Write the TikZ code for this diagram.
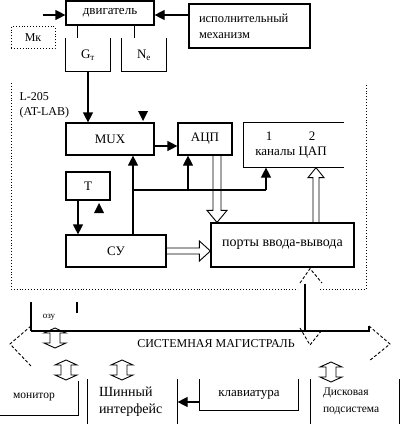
\documentclass[tikz,border=0pt]{standalone}
\usepackage{fontspec}
\setmainfont{Liberation Serif}
\usetikzlibrary{arrows.meta,calc}
\begin{document}
\begin{tikzpicture}[x=1pt,y=-1pt,line width=1.2pt,
  tri/.tip={Triangle[length=10pt,width=10pt]},
  blk/.style={draw,inner sep=0pt,font=\fontsize{13}{15}\selectfont},
  txt/.style={inner sep=0pt,font=\fontsize{13}{15}\selectfont},
  dblv/.pic={\draw[line width=0.9pt] (0,-10) -- (11,-5) -- (5,-5) -- (5,5) -- (11,5) -- (0,10) -- (-11,5) -- (-5,5) -- (-5,-5) -- (-11,-5) -- cycle;}
]
\useasboundingbox (0,0) rectangle (400,428);

% top part
\node[blk,minimum width=88pt,minimum height=24pt] (dvig) at (110,13) {двигатель};
\node[blk,minimum width=121pt,minimum height=44pt,text width=101pt,align=left,font=\fontsize{12.5}{16}\selectfont] (mech) at (249.5,26) {исполнительный\\механизм};
\node[draw,dotted,line width=0.9pt,minimum width=44pt,minimum height=22pt,inner sep=0pt,font=\fontsize{12}{14}\selectfont] (mk) at (33,37.5) {Мк};
\node[txt,minimum width=44pt,minimum height=32pt] (gt) at (88,55) {G\textsubscript{т}};
\node[txt,minimum width=44pt,minimum height=32pt] (ne) at (144,55) {N\textsubscript{е}};
\draw (gt.north west) |- (gt.south east) -- (gt.north east);
\draw (ne.north west) |- (ne.south east) -- (ne.north east);
\draw ($(dvig.south west)+(12,0)$) -- ++(0,12);
\draw ($(dvig.south east)+(-20,0)$) -- ++(0,12);
\coordinate (inL) at (43,15);
\draw[-tri] (inL) -- (inL -| dvig.west);
\draw[-tri] (mech.west |- inL) -- (dvig.east |- inL);

% L-205 region
\draw[dotted,line width=0.9pt] (11,83) -- (11,289) -- (298,289);
\draw[dotted,line width=0.9pt] (320,289) -- (366,289) -- (366,83);
\node[anchor=west,inner sep=0pt,font=\fontsize{12}{14}\selectfont] (l205) at (19,97) {L-205};
\node[anchor=west,inner sep=0pt,font=\fontsize{12}{14}\selectfont] (atlab) at (19,113) {(AT-LAB)};

\node[blk,minimum width=88pt,minimum height=32pt] (mux) at (110,139) {MUX};
\node[blk,minimum width=54pt,minimum height=32pt] (adc) at (205,139) {АЦП};
\node[inner sep=0pt,minimum width=99pt,minimum height=44pt] (dac) at (293.5,145) {};
\draw (dac.north east) -| (dac.south west) -- (dac.south east);
\node[txt] (d1) at (269,136) {1};
\node[txt] (d2) at (312,136) {2};
\node[txt] (dlab) at (291,153) {каналы ЦАП};
\node[blk,minimum width=44pt,minimum height=28pt] (t) at (88,186) {Т};
\node[blk,minimum width=100pt,minimum height=32pt] (su) at (116,251) {СУ};
\node[blk,minimum width=143pt,minimum height=44pt,font=\fontsize{14}{16}\selectfont] (ports) at (282.5,245) {порты ввода-вывода};

\draw[-tri] (gt.south) -- (gt.south |- mux.north);
\fill (138,111) -- (148,111) -- (143,121) -- cycle;
\draw[-tri] ($(mux.east)+(0,7)$) -- ($(adc.west)+(0,7)$);
\coordinate (j1) at (133,190);
\coordinate (ja) at (188,190);
\coordinate (jd) at (266,190);
\draw[-tri] (j1 |- su.north) -- (j1 |- mux.south);
\draw (j1) -- (jd);
\draw[-tri] (ja) -- (ja |- adc.south);
\draw[-tri] (jd) -- (jd |- dac.south);
\draw[-tri] ($(t.south)+(-10,0)$) -- ($(t.south |- su.north)+(-10,0)$);
\fill (94,213) -- (104,213) -- (99,203) -- cycle;

% block arrows
\coordinate (sp) at (su.east -| ports.west);
\draw[line width=0.9pt] ($(su.east)+(0,-3)$) -- ($(sp)+(-11,-3)$) -- ($(sp)+(-11,-10)$) -- (sp) -- ($(sp)+(-11,10)$) -- ($(sp)+(-11,3)$) -- ($(su.east)+(0,3)$);
\coordinate (ap) at ($(adc.south)+(12,0)$);
\coordinate (apt) at (ap |- ports.north);
\draw[line width=0.9pt] ($(ap)+(-4,0)$) -- ($(apt)+(-4,-12)$) -- ($(apt)+(-10,-12)$) -- (apt) -- ($(apt)+(10,-12)$) -- ($(apt)+(4,-12)$) -- ($(ap)+(4,0)$);
\coordinate (pd) at ($(ports.north)+(33.5,0)$);
\coordinate (pdt) at (pd |- dac.south);
\draw[line width=0.9pt] ($(pd)+(-3,0)$) -- ($(pdt)+(-3,10)$) -- ($(pdt)+(-8,10)$) -- (pdt) -- ($(pdt)+(8,10)$) -- ($(pdt)+(3,10)$) -- ($(pd)+(3,0)$);

% system bus
\coordinate (busL) at (31,331);
\coordinate (busR) at (369,331);
\coordinate (busLt) at (10,344);
\coordinate (busRt) at (390,344);
\draw (busL) -- (busR) -- (369,326);
\draw[densely dashed,line width=0.9pt] (31,326) -- (busLt) -- (31,366);
\draw[densely dashed,line width=0.9pt] (369,326) -- (busRt) -- (369,361);
\node[txt,font=\fontsize{12}{14}\selectfont] (bus) at (216,344) {СИСТЕМНАЯ МАГИСТРАЛЬ};

\coordinate (pb) at ($(ports.south)+(22.5,16)$);
\draw (pb) -- (pb |- busL);
\draw[densely dashed,line width=0.9pt] (300,283) -- ($(ports.south)+(27.5,1)$) -- (322,283);
\draw[densely dashed,line width=0.9pt] (300,328) -- (310,345) -- (322,330);

% OZU
\node[inner sep=0pt,font=\fontsize{9}{10}\selectfont] (ozu) at (49,317) {озу};
\draw (31,302) -- (busL);
\draw (77,302) -- (77,313);
\pic at (55,338) {dblv};
\pic at (66,370) {dblv};
\pic at (122,370) {dblv};
\pic at (331,372) {dblv};

% bottom row
\node[inner sep=0pt,minimum width=78pt,minimum height=33pt] (monbox) at (39,398.5) {};
\node[inner sep=0pt,font=\fontsize{11.5}{14}\selectfont] (mon) at (34,397) {монитор};
\draw (monbox.north east) -- (monbox.south east) -- (monbox.south west);
\node[inner sep=0pt,minimum width=89pt,minimum height=43pt,text width=67pt,align=left,font=\fontsize{14}{17}\selectfont] (sh) at (132.5,401.5) {Шинный\\интерфейс};
\draw (sh.north west) -- (sh.south west);
\draw (sh.north east) -- (sh.south east);
\node[txt,minimum width=98pt,minimum height=30pt] (kb) at (249,395) {клавиатура};
\draw (kb.north west) |- (kb.south east) -- (kb.north east);
\coordinate (kbs) at (kb.west -| sh.east);
\draw[-tri] ($(kb.west)+(0,7)$) -- ($(kbs)+(0,7)$);
\node[inner sep=0pt,minimum width=88pt,minimum height=43pt,text width=64pt,align=left,font=\fontsize{11.5}{17}\selectfont] (disk) at (355,401.5) {Дисковая\\подсистема};
\draw (disk.north west) -- (disk.south west);
\draw (disk.north east) -- (disk.south east);
\end{tikzpicture}
\end{document}
